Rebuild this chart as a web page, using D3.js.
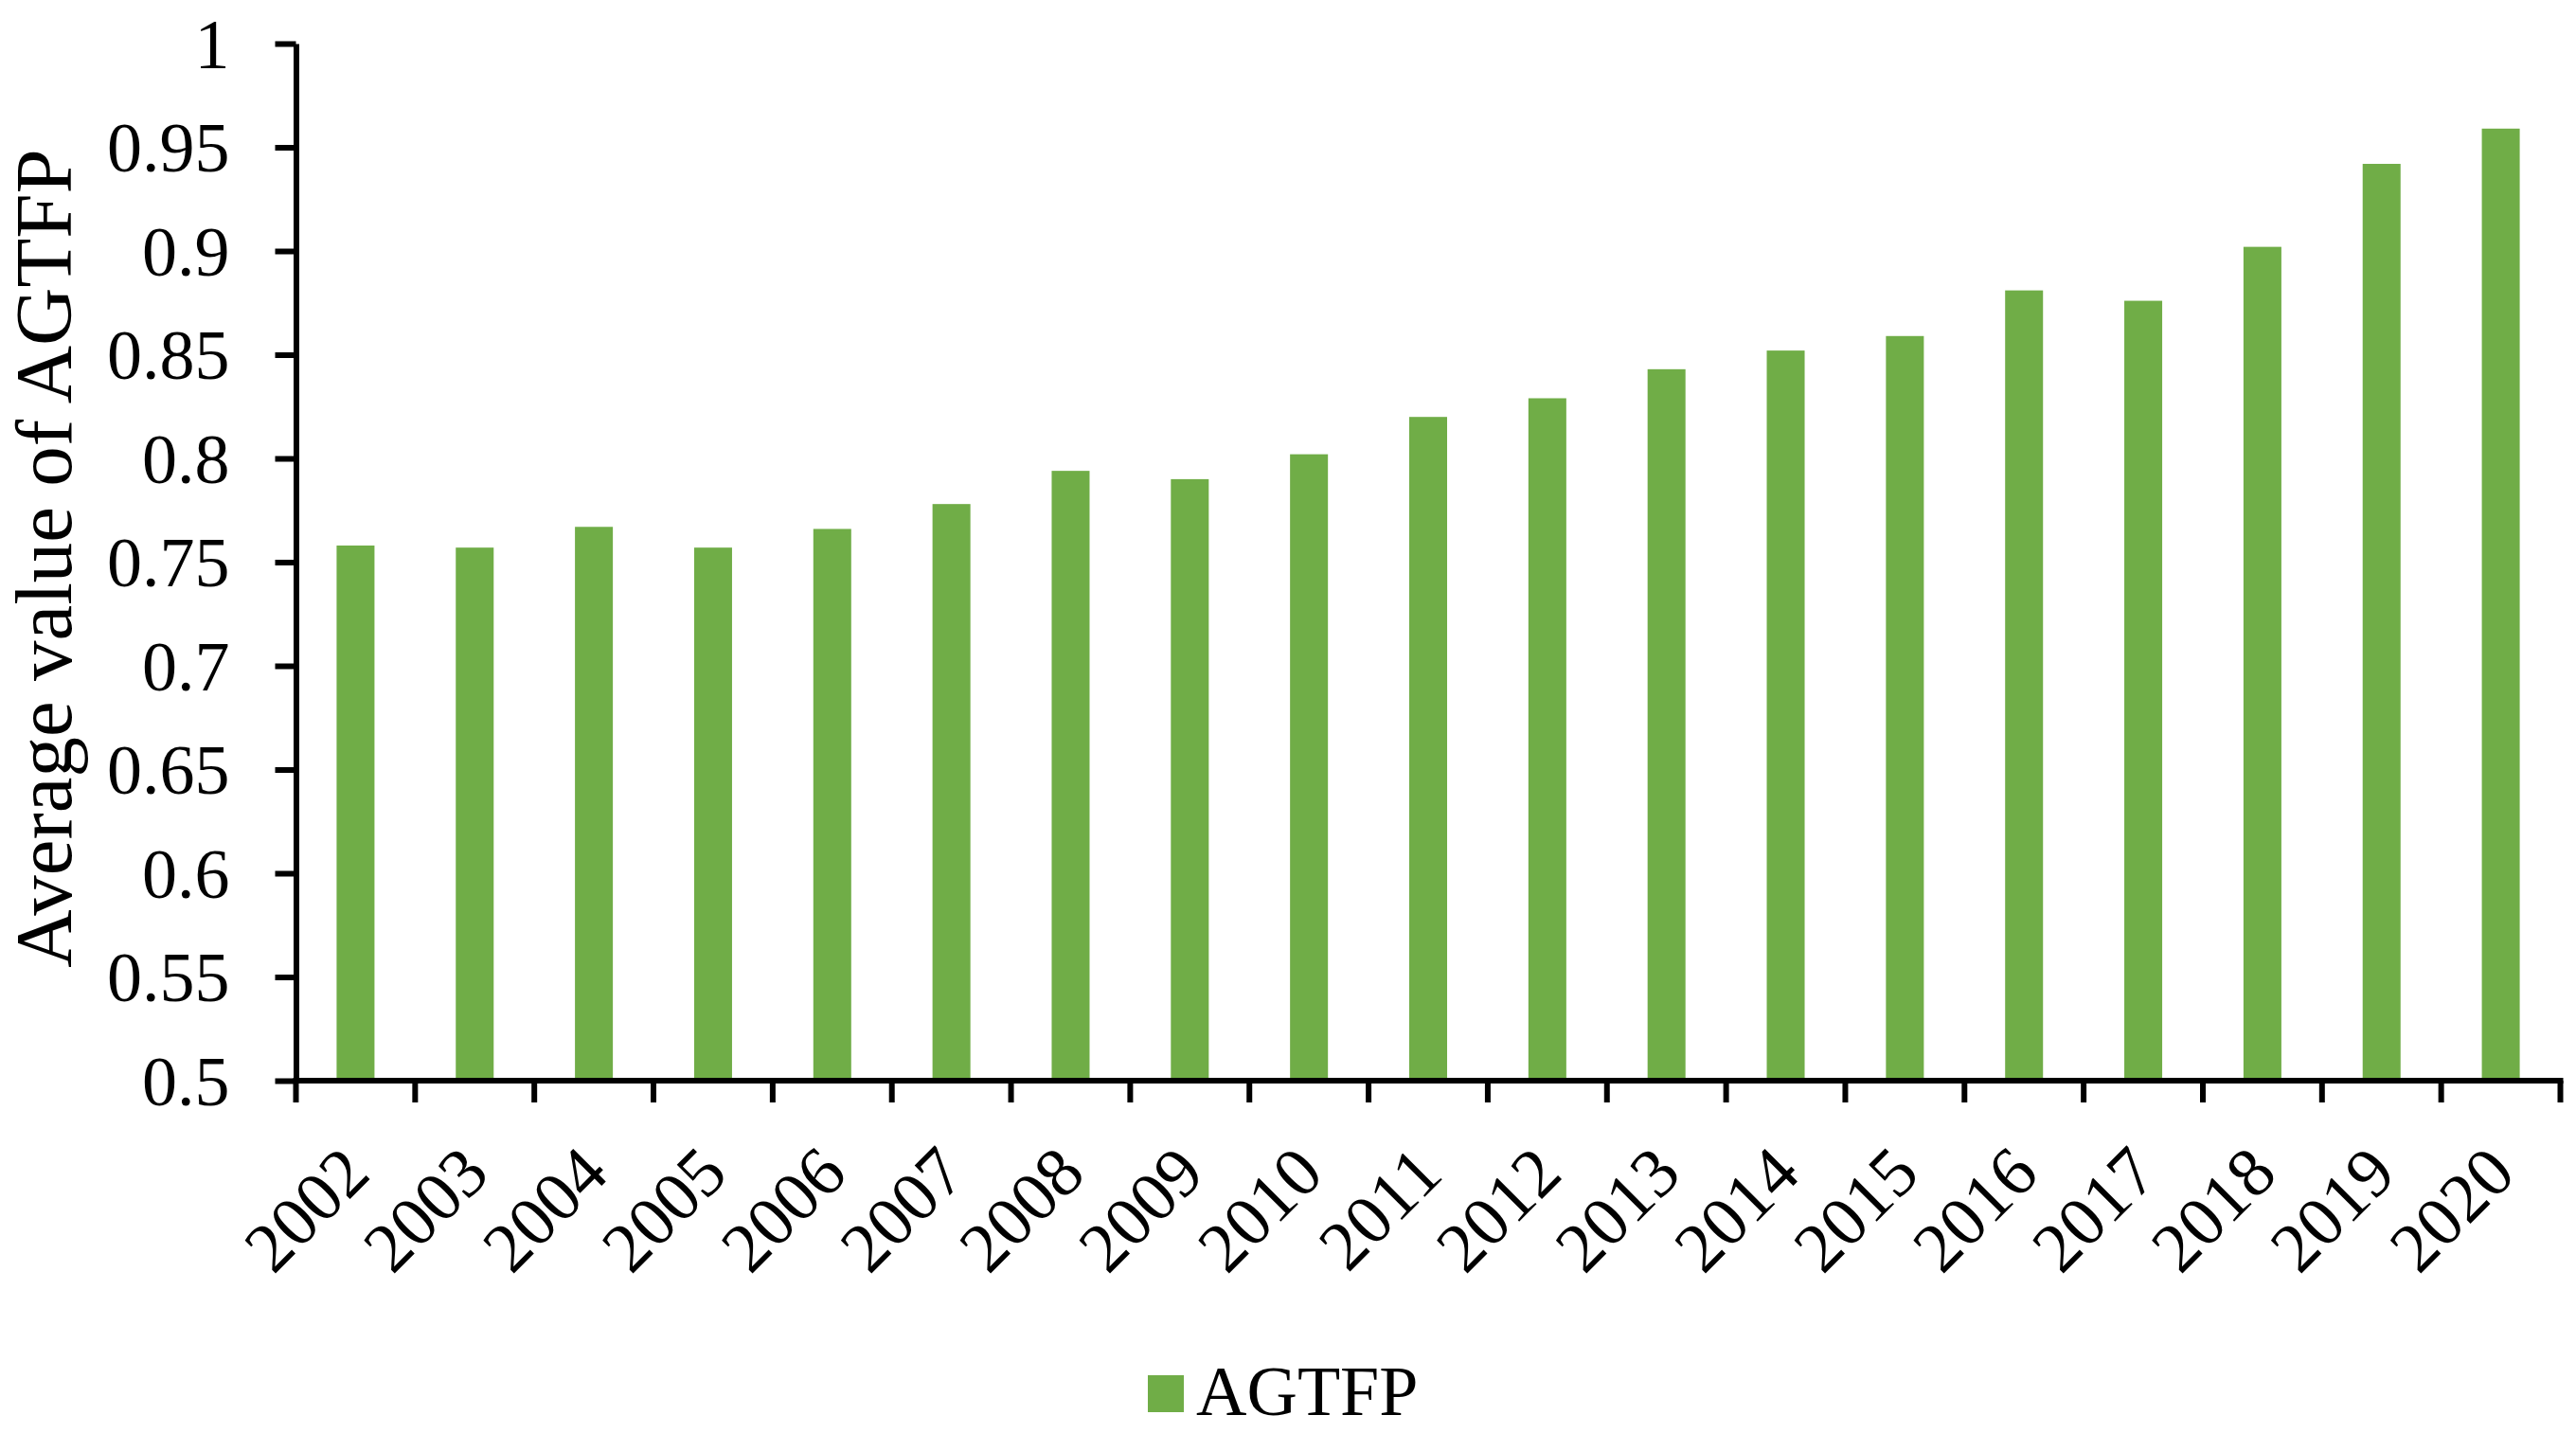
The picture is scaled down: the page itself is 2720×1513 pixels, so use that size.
<!DOCTYPE html>
<html>
<head>
<meta charset="utf-8">
<script src="https://cdn.jsdelivr.net/npm/d3@7/dist/d3.min.js"></script>
<style>
  html, body { margin: 0; padding: 0; background: #ffffff; }
  svg { display: block; }
</style>
</head>
<body>
<svg id="chart" width="2720" height="1513"></svg>
<script>
const years = ["2002","2003","2004","2005","2006","2007","2008","2009","2010","2011",
               "2012","2013","2014","2015","2016","2017","2018","2019","2020"];
const agtfp = [0.758, 0.757, 0.767, 0.757, 0.766, 0.778, 0.794, 0.790, 0.802, 0.820,
               0.829, 0.843, 0.852, 0.859, 0.881, 0.876, 0.902, 0.942, 0.959];
const yTicks = [0.5, 0.55, 0.6, 0.65, 0.7, 0.75, 0.8, 0.85, 0.9, 0.95, 1];
const yTickLabels = ["0.5","0.55","0.6","0.65","0.7","0.75","0.8","0.85","0.9","0.95","1"];
const seriesName = "AGTFP";
const yTitle = "Average value of AGTFP";

(function () {
const FONT = "'Liberation Serif', 'Times New Roman', serif";
const GREEN = "#70AD47";

const svg = d3.select("#chart");
const pL = 312.5, pR = 2703.5, pT = 46, pB = 1141;

const x = d3.scaleBand().domain(years).range([pL, pR]).padding(0);
const y = d3.scaleLinear().domain([0.5, 1]).range([pB, pT]);
const barW = x.bandwidth() * 0.318;

// bars
svg.append("g").selectAll("rect").data(years).join("rect")
  .attr("x", d => x(d) + x.bandwidth() / 2 - barW / 2)
  .attr("y", (d, i) => y(agtfp[i]))
  .attr("width", barW)
  .attr("height", (d, i) => y(0.5) - y(agtfp[i]))
  .attr("fill", GREEN);

// y axis
const yAxis = d3.axisLeft(y)
  .tickValues(yTicks)
  .tickFormat((d, i) => yTickLabels[i])
  .tickSizeInner(22).tickSizeOuter(0).tickPadding(48);
const gy = svg.append("g").attr("transform", `translate(${pL},0)`).call(yAxis);
gy.select(".domain").attr("stroke", "#000").attr("stroke-width", 6);
gy.selectAll(".tick line").attr("stroke", "#000").attr("stroke-width", 6);
gy.selectAll(".tick text")
  .attr("font-family", FONT).attr("font-size", 74).attr("fill", "#000")
  .attr("dy", "0.34em");

// x axis
const xAxis = d3.axisBottom(x).tickSize(0).tickSizeOuter(0).tickFormat("");
const gx = svg.append("g").attr("transform", `translate(0,${pB})`).call(xAxis);
gx.select(".domain").attr("stroke", "#000").attr("stroke-width", 6)
  .attr("d", `M${pL - 3},0H${pR + 3}`);
gx.selectAll(".tick").remove();

// boundary ticks on x axis
const bounds = years.map(d => x(d)).concat([x(years[years.length - 1]) + x.bandwidth()]);
svg.append("g").selectAll("line").data(bounds).join("line")
  .attr("x1", d => d).attr("x2", d => d)
  .attr("y1", pB).attr("y2", pB + 23)
  .attr("stroke", "#000").attr("stroke-width", 6);

// x labels rotated
svg.append("g").selectAll("text").data(years).join("text")
  .attr("transform", d => `translate(${x(d) + x.bandwidth() / 2 + 18},${1242}) rotate(-45)`)
  .attr("text-anchor", "end")
  .attr("font-family", FONT).attr("font-size", 74).attr("fill", "#000")
  .text(d => d);

// y title
svg.append("text")
  .attr("transform", `translate(75,${(pT + pB) / 2 - 4}) rotate(-90)`)
  .attr("text-anchor", "middle")
  .attr("font-family", FONT).attr("font-size", 85).attr("fill", "#000")
  .text(yTitle);

// legend
const lg = svg.append("g");
lg.append("rect").attr("x", 1212).attr("y", 1452).attr("width", 38).attr("height", 39).attr("fill", GREEN);
lg.append("text").attr("x", 1263).attr("y", 1494)
  .attr("font-family", FONT).attr("font-size", 74).attr("fill", "#000")
  .text(seriesName);
})();
</script>
</body>
</html>
